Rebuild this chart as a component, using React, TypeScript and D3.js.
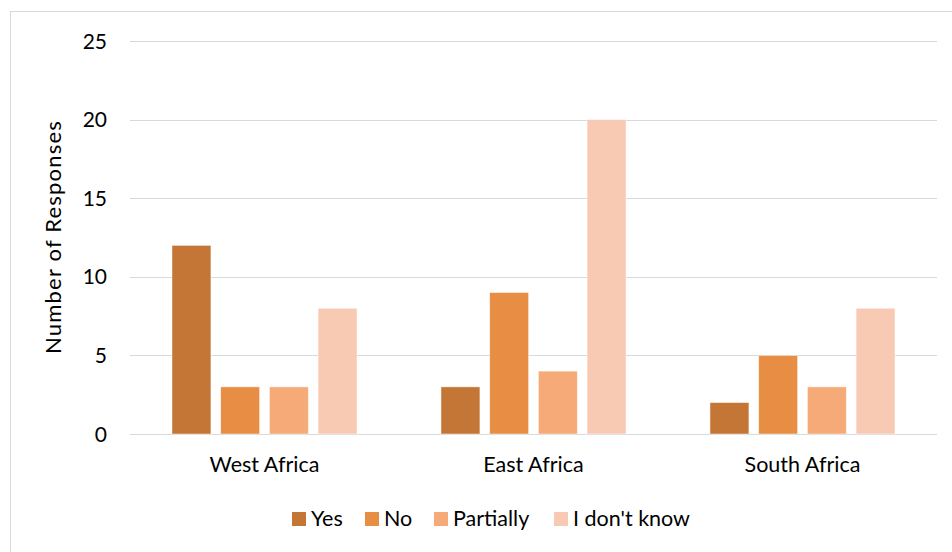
import React from "react";
import * as d3 from "d3";

const regions = ["West Africa", "East Africa", "South Africa"];
const answers = ["Yes", "No", "Partially", "I don't know"];
const yesValues = [12, 3, 2];
const noValues = [3, 9, 5];
const partiallyValues = [3, 4, 3];
const dontKnowValues = [8, 20, 8];
const yTicks = [0, 5, 10, 15, 20, 25];
const answerColors = ["#C47636", "#E88E44", "#F6AA78", "#F8CAB4"];

const W = 952;
const H = 552;
const FONT = "Lato, 'Open Sans', sans-serif";

export default function App() {
  const seriesValues = [yesValues, noValues, partiallyValues, dontKnowValues];

  const plotLeft = 130;
  const plotRight = 937;
  const plotTop = 41;
  const plotBottom = 434;

  const x0 = d3
    .scaleBand<string>()
    .domain(regions)
    .range([plotLeft, plotRight])
    .paddingInner(0.312)
    .paddingOuter(0.156);

  const x1 = d3
    .scaleBand<string>()
    .domain(answers)
    .range([0, x0.bandwidth()])
    .paddingInner(0.2)
    .paddingOuter(0);

  const y = d3.scaleLinear().domain([0, 25]).range([plotBottom, plotTop]);

  const legendItems = [
    { label: "Yes", x: 292 },
    { label: "No", x: 365 },
    { label: "Partially", x: 434 },
    { label: "I don't know", x: 554 },
  ];

  return (
    <svg
      width={W}
      height={H}
      style={{ position: "absolute", left: 0, top: 0, background: "#fff" }}
      fontFamily={FONT}
    >
      <rect x={0} y={0} width={W} height={H} fill="#fff" />
      {/* chart frame */}
      <rect
        x={10.5}
        y={11.5}
        width={W + 20}
        height={H + 20}
        fill="none"
        stroke="#D9D9D9"
        strokeWidth={1}
      />

      {/* gridlines and y tick labels */}
      {yTicks.map((t) => (
        <g key={t}>
          <line
            x1={plotLeft}
            x2={plotRight}
            y1={Math.round(y(t)) + 0.5}
            y2={Math.round(y(t)) + 0.5}
            stroke="#D9D9D9"
            strokeWidth={1.2}
          />
          <text
            x={107}
            y={y(t)}
            dy="0.36em"
            textAnchor="end"
            fontSize={21}
            fill="#000"
          >
            {t}
          </text>
        </g>
      ))}

      {/* bars */}
      {regions.map((r, ri) => (
        <g key={r} transform={`translate(${x0(r)},0)`}>
          {answers.map((a, ai) => {
            const v = seriesValues[ai][ri];
            return (
              <rect
                key={a}
                x={x1(a)}
                y={y(v)}
                width={x1.bandwidth()}
                height={y(0) - y(v)}
                fill={answerColors[ai]}
                stroke="#FFFFFF"
                strokeOpacity={0.6}
                strokeWidth={0.8}
              />
            );
          })}
        </g>
      ))}

      {/* category labels */}
      {regions.map((r) => (
        <text
          key={r}
          x={(x0(r) as number) + x0.bandwidth() / 2}
          y={472}
          textAnchor="middle"
          fontSize={21.5}
          fill="#000"
        >
          {r}
        </text>
      ))}

      {/* y axis title */}
      <text
        transform={`translate(61,237) rotate(-90)`}
        textAnchor="middle"
        fontSize={22}
        letterSpacing={1.2}
        fill="#000"
      >
        Number of Responses
      </text>

      {/* legend */}
      {legendItems.map((it, i) => (
        <g key={it.label}>
          <rect x={it.x} y={512} width={14} height={14} fill={answerColors[i]} />
          <text x={it.x + 19} y={526} fontSize={21.5} fill="#000">
            {it.label}
          </text>
        </g>
      ))}
    </svg>
  );
}
